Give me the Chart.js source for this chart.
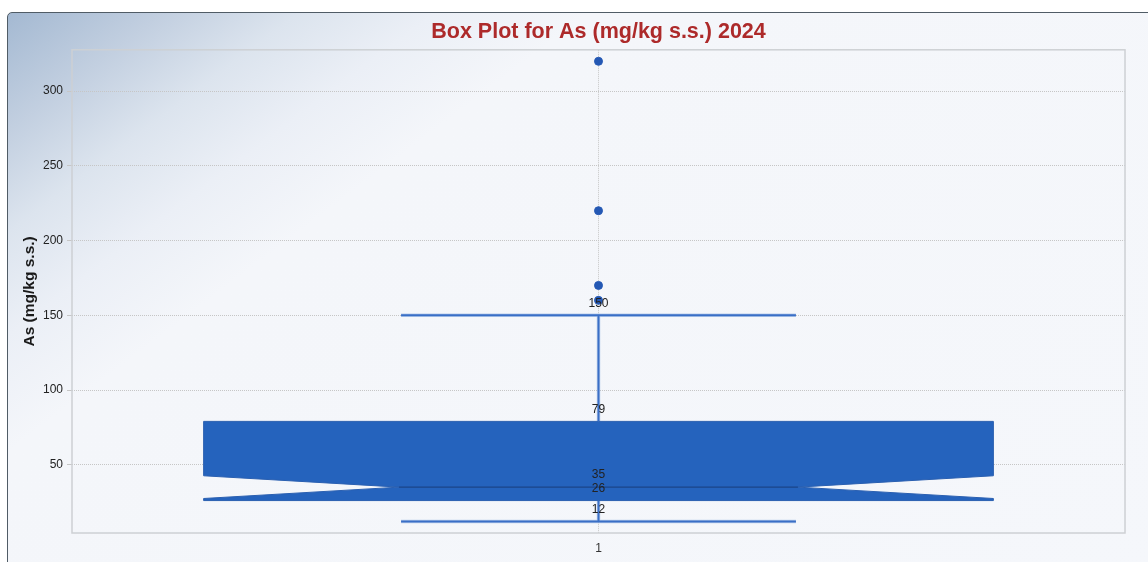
<!DOCTYPE html>
<html>
<head>
<meta charset="utf-8">
<title>Box Plot for As (mg/kg s.s.) 2024</title>
<script src="https://cdn.jsdelivr.net/npm/chart.js@4.4.1/dist/chart.umd.min.js"></script>
<style>
  html, body { margin: 0; padding: 0; background: #fff; overflow: hidden; }
  #panel {
    position: absolute; left: 7px; top: 12px; width: 1170px; height: 580px;
    border: 1.5px solid #505c66; border-top-left-radius: 5px;
    background: linear-gradient(143deg, #a4b9d2 0%, #c2cfe0 8%, #dce4ee 15%, #ebeff6 22%, #f4f6fa 30%, #f5f7fb 100%);
  }
  #wrap { position: absolute; left: 0; top: 0; width: 1148px; height: 562px; }
</style>
</head>
<body>
<div id="panel"></div>
<div id="wrap"><canvas id="boxChart"></canvas></div>
<script>
// box statistics per category
const categories = ["1"];
const whiskerLow = [12];
const q1 = [26];
const median = [35];
const q3 = [79];
const whiskerHigh = [150];
const notchLow = [27.4];
const notchHigh = [42.6];
const outliers = [[160, 170, 220, 320]];

const yMin = 4.3;
const yMax = 327.7;

Chart.defaults.font.family = '"Liberation Sans", Arial, sans-serif';

// outlier points go through a normal dataset
const outlierPoints = [];
categories.forEach((c, i) => {
  outliers[i].forEach((v) => outlierPoints.push({ x: c, y: v }));
});

const boxPlot = {
  id: "boxPlot",
  beforeDatasetsDraw(chart) {
    const ctx = chart.ctx;
    const xs = chart.scales.x;
    const ys = chart.scales.y;
    const area = chart.chartArea;
    const band = xs.width / categories.length;

    ctx.save();
    // plot frame
    ctx.strokeStyle = "#cdd0d4";
    ctx.lineWidth = 1.5;
    ctx.strokeRect(area.left, area.top, area.right - area.left, area.bottom - area.top);

    for (let i = 0; i < categories.length; i++) {
      const cx = xs.getPixelForValue(i);
      const half = band * 0.75 / 2;
      const capHalf = half / 2;
      const notchHalf = half * 0.505;
      const yLo = ys.getPixelForValue(whiskerLow[i]);
      const yHi = ys.getPixelForValue(whiskerHigh[i]);
      const y1 = ys.getPixelForValue(q1[i]);
      const y3 = ys.getPixelForValue(q3[i]);
      const ym = ys.getPixelForValue(median[i]);
      const nLo = ys.getPixelForValue(notchLow[i]);
      const nHi = ys.getPixelForValue(notchHigh[i]);

      // whiskers + caps (soft halo under the line)
      [["rgba(140,175,225,0.55)", 3.5], ["#3a6fc6", 2]].forEach(([col, w]) => {
        ctx.strokeStyle = col;
        ctx.lineWidth = w;
        ctx.beginPath();
        ctx.moveTo(cx, yHi); ctx.lineTo(cx, y3);
        ctx.moveTo(cx, y1); ctx.lineTo(cx, yLo);
        ctx.moveTo(cx - capHalf, yHi); ctx.lineTo(cx + capHalf, yHi);
        ctx.moveTo(cx - capHalf, yLo); ctx.lineTo(cx + capHalf, yLo);
        ctx.stroke();
      });

      // notched box
      ctx.beginPath();
      ctx.moveTo(cx - half, y3);
      ctx.lineTo(cx + half, y3);
      ctx.lineTo(cx + half, nHi);
      ctx.lineTo(cx + notchHalf, ym);
      ctx.lineTo(cx + half, nLo);
      ctx.lineTo(cx + half, y1);
      ctx.lineTo(cx - half, y1);
      ctx.lineTo(cx - half, nLo);
      ctx.lineTo(cx - notchHalf, ym);
      ctx.lineTo(cx - half, nHi);
      ctx.closePath();
      ctx.fillStyle = "#2563bd";
      ctx.fill();
      ctx.strokeStyle = "#2a5fb0";
      ctx.lineWidth = 1;
      ctx.stroke();

      // median
      ctx.strokeStyle = "#1b4589";
      ctx.lineWidth = 1.2;
      ctx.beginPath();
      ctx.moveTo(cx - notchHalf, ym);
      ctx.lineTo(cx + notchHalf, ym);
      ctx.stroke();
    }
    ctx.restore();
  },
  afterDatasetsDraw(chart) {
    const ctx = chart.ctx;
    const xs = chart.scales.x;
    const ys = chart.scales.y;
    ctx.save();
    ctx.font = '12px "Liberation Sans", Arial, sans-serif';
    ctx.fillStyle = "#222";
    ctx.textAlign = "center";
    ctx.textBaseline = "middle";
    for (let i = 0; i < categories.length; i++) {
      const cx = xs.getPixelForValue(i);
      [whiskerHigh[i], q3[i], median[i], q1[i], whiskerLow[i]].forEach((v) => {
        ctx.fillText(String(v), cx, ys.getPixelForValue(v) - 12);
      });
    }
    ctx.restore();
  }
};

new Chart(document.getElementById("boxChart"), {
  type: "line",
  data: {
    labels: categories,
    datasets: [
      {
        label: "Outliers",
        data: outlierPoints,
        showLine: false,
        pointRadius: 4,
        pointHoverRadius: 4,
        pointBackgroundColor: "#2458b4",
        pointBorderColor: "#2458b4",
        pointBorderWidth: 1
      }
    ]
  },
  options: {
    responsive: true,
    maintainAspectRatio: false,
    animation: false,
    layout: { padding: { left: 13, right: 23, top: 12, bottom: 0 } },
    plugins: {
      legend: { display: false },
      tooltip: { enabled: false },
      title: {
        display: true,
        fullSize: false,
        text: "Box Plot for As (mg/kg s.s.) 2024",
        color: "#ad2a2a",
        font: { size: 21.5, weight: "bold" },
        padding: { top: 7, bottom: 5 }
      }
    },
    scales: {
      x: {
        type: "category",
        offset: true,
        grid: { offset: false, drawTicks: false, color: "#c6c6c6" },
        border: { display: false, dash: [1, 1] },
        ticks: { padding: 8, color: "#333", font: { size: 12 } },
        afterFit(s) { s.height = 29; }
      },
      y: {
        type: "linear",
        min: yMin,
        max: yMax,
        grid: { color: "#c6c6c6", tickLength: 5 },
        border: { display: false, dash: [1, 1] },
        ticks: { stepSize: 50, includeBounds: false, padding: 4, color: "#222", font: { size: 12 } },
        title: {
          display: true,
          text: "As (mg/kg s.s.)",
          color: "#1a1a1a",
          font: { size: 15.5, weight: "bold" },
          padding: { top: 7, bottom: 0 }
        },
        afterFit(s) { s.width = 59; }
      }
    }
  },
  plugins: [boxPlot]
});
</script>
</body>
</html>
